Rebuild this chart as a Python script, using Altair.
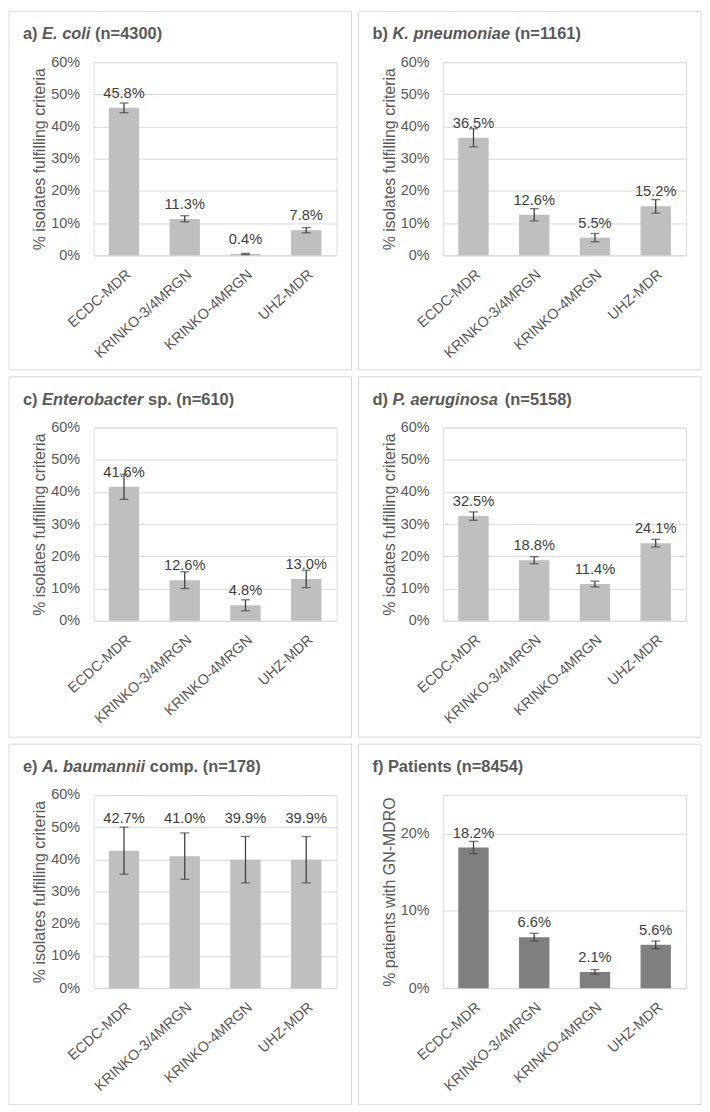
import altair as alt
import pandas as pd

categories = ["ECDC-MDR", "KRINKO-3/4MRGN", "KRINKO-4MRGN", "UHZ-MDR"]

ecoli_pct = [45.8, 11.3, 0.4, 7.8]
ecoli_lo = [44.3, 10.4, 0.2, 7.0]
ecoli_hi = [47.3, 12.3, 0.6, 8.6]

kpneu_pct = [36.5, 12.6, 5.5, 15.2]
kpneu_lo = [33.7, 10.7, 4.2, 13.1]
kpneu_hi = [39.3, 14.5, 6.8, 17.3]

entero_pct = [41.6, 12.6, 4.8, 13.0]
entero_lo = [37.7, 10.0, 3.1, 10.3]
entero_hi = [45.5, 15.2, 6.5, 15.7]

paer_pct = [32.5, 18.8, 11.4, 24.1]
paer_lo = [31.2, 17.7, 10.5, 22.9]
paer_hi = [33.8, 19.9, 12.3, 25.3]

abau_pct = [42.7, 41.0, 39.9, 39.9]
abau_lo = [35.4, 33.8, 32.7, 32.7]
abau_hi = [50.0, 48.2, 47.1, 47.1]

pat_pct = [18.2, 6.6, 2.1, 5.6]
pat_lo = [17.4, 6.1, 1.8, 5.1]
pat_hi = [19.0, 7.1, 2.4, 6.1]

isolate_ticks = [0, 10, 20, 30, 40, 50, 60]
patient_ticks = [0, 10, 20]

title_a = [("a) ", False), ("E. coli", True), (" (n=4300)", False)]
title_b = [("b) ", False), ("K. pneumoniae", True), (" (n=1161)", False)]
title_c = [("c) ", False), ("Enterobacter", True), (" sp. (n=610)", False)]
title_d = [("d) ", False), ("P. aeruginosa", True), (" (n=5158)", False)]
title_e = [("e) ", False), ("A. baumannii", True), (" comp. (n=178)", False)]
title_f = [("f) Patients (n=8454)", False)]

FONT = "Liberation Sans"
TXT = "#595959"
LBL = "#404040"
ERR = "#404040"
GRID = "#d9d9d9"
W, H = 244, 194
LEFT, TOP, RIGHT = 85, 51, 15
TFS = 16.5

# Arial/Liberation Sans Bold advance widths (per 1000 em)
BOLD_W = {' ': 278, '(': 333, ')': 333, '.': 278, '=': 584, 'a': 556, 'b': 611,
          'c': 556, 'd': 611, 'e': 556, 'f': 333, 'g': 611, 'h': 611, 'i': 278,
          'k': 556, 'l': 278, 'm': 889, 'n': 611, 'o': 611, 'p': 611, 'r': 389,
          's': 556, 't': 333, 'u': 611, 'A': 722, 'E': 667, 'K': 722, 'P': 667}
for d in "0123456789":
    BOLD_W[d] = 556


def tw(s):
    return sum(BOLD_W.get(c, 556) for c in s) * TFS / 1000.0


def panel(segments, pct, lo, hi, color, ytitle, ymax, yticks, frame_h, label_on_top=False):
    df = pd.DataFrame({"cat": categories, "pct": pct, "lo": lo, "hi": hi,
                       "label": [f"{v:.1f}%" for v in pct]})
    if label_on_top:
        df["ly"] = max(hi)
        dy = -4
    else:
        df["ly"] = df["pct"]
        dy = -10

    scale_y = alt.Scale(domain=[0, ymax], nice=False)
    axis_y = alt.Axis(values=yticks, labelExpr="datum.value + '%'", grid=True,
                      gridColor=GRID, gridWidth=1, domain=False, ticks=False, tickSize=0,
                      labelPadding=14, labelFont=FONT, labelFontSize=14.5, labelColor=TXT,
                      titleFont=FONT, titleFontSize=16, titleFontWeight="normal",
                      titleColor=TXT, titlePadding=3)

    def Y(field):
        return alt.Y(f"{field}:Q", scale=scale_y, axis=axis_y, title=ytitle)

    X = alt.X("cat:N", sort=categories, title=None,
              scale=alt.Scale(paddingInner=0.5, paddingOuter=0.25),
              axis=alt.Axis(labelAngle=-42, labelAlign="right", labelBaseline="middle",
                            labelPadding=17, labelOffset=5, labelFont=FONT,
                            labelFontSize=14.5, labelColor=TXT, labelOverlap=False,
                            labelLimit=300, domain=False, ticks=False, tickSize=0,
                            grid=False))

    base = alt.Chart(df)
    bars = base.mark_bar(color=color).encode(x=X, y=Y("pct"))
    err = base.mark_rule(color=ERR, strokeWidth=1.3).encode(x=X, y=Y("lo"), y2="hi:Q")
    cap_lo = base.mark_tick(color=ERR, size=9, thickness=1.3).encode(x=X, y=Y("lo"))
    cap_hi = base.mark_tick(color=ERR, size=9, thickness=1.3).encode(x=X, y=Y("hi"))
    lab = base.mark_text(font=FONT, fontSize=14.7, color=LBL, baseline="alphabetic",
                         dy=dy).encode(x=X, y=Y("ly"), text="label:N")

    one = pd.DataFrame({"k": [0]})
    frame = alt.Chart(one).mark_rect(fillOpacity=0, stroke=GRID, strokeWidth=1).encode(
        x=alt.value(-LEFT), x2=alt.value(W + RIGHT),
        y=alt.value(-TOP), y2=alt.value(frame_h - TOP))

    tlayers = []
    cx = -LEFT + 14
    for text, italic in segments:
        stripped = text.strip()
        lead = len(text) - len(text.lstrip())
        x0 = cx + tw(text[:lead])
        kw = dict(font=FONT, fontSize=TFS, fontWeight="bold", color=TXT,
                  align="left", baseline="alphabetic", text=stripped)
        if italic:
            kw["fontStyle"] = "italic"
        tlayers.append(alt.Chart(one).mark_text(**kw).encode(
            x=alt.value(x0), y=alt.value(-23)))
        cx += tw(text)

    return alt.layer(frame, bars, err, cap_lo, cap_hi, lab, *tlayers).properties(
        width=W, height=H)


LIGHT = "#bfbfbf"
DARK = "#7f7f7f"
YT = "% isolates fulfilling criteria"

pa = panel(title_a, ecoli_pct, ecoli_lo, ecoli_hi, LIGHT, YT, 60, isolate_ticks, 360)
pb = panel(title_b, kpneu_pct, kpneu_lo, kpneu_hi, LIGHT, YT, 60, isolate_ticks, 360)
pc = panel(title_c, entero_pct, entero_lo, entero_hi, LIGHT, YT, 60, isolate_ticks, 362)
pd_ = panel(title_d, paer_pct, paer_lo, paer_hi, LIGHT, YT, 60, isolate_ticks, 362)
pe = panel(title_e, abau_pct, abau_lo, abau_hi, LIGHT, YT, 60, isolate_ticks, 362,
           label_on_top=True)
pf = panel(title_f, pat_pct, pat_lo, pat_hi, DARK, "% patients with GN-MDRO", 25,
           patient_ticks, 362)

chart = alt.vconcat(
    alt.hconcat(pa, pb, spacing=5),
    alt.hconcat(pc, pd_, spacing=5),
    alt.hconcat(pe, pf, spacing=5),
    spacing=5, padding=0,
).configure_view(strokeWidth=0).configure(font=FONT, background="white")

chart.save("out.html", embed_options={"renderer": "svg", "actions": False})
